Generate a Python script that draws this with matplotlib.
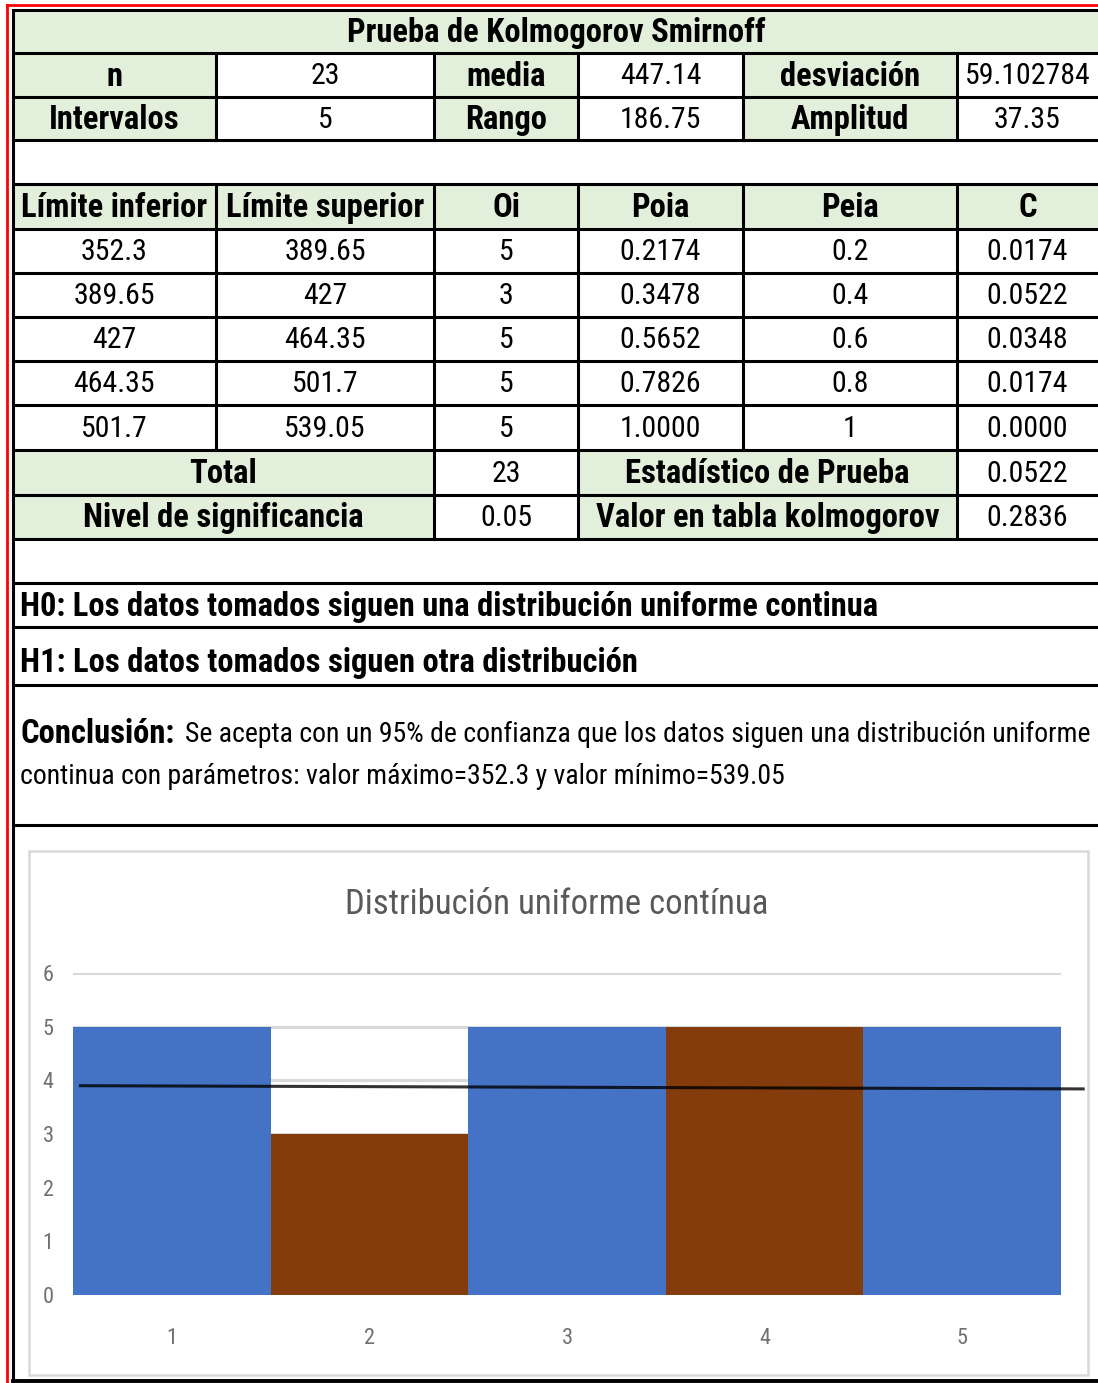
import matplotlib
matplotlib.use("Agg")
import matplotlib.pyplot as plt
from matplotlib.patches import Rectangle
from matplotlib import font_manager as fm

# ---------------- data ----------------
title = "Prueba de Kolmogorov Smirnoff"
summary_row1 = ["n", "23", "media", "447.14", "desviación", "59.102784"]
summary_row2 = ["Intervalos", "5", "Rango", "186.75", "Amplitud", "37.35"]
header = ["Límite inferior", "Límite superior", "Oi", "Poia", "Peia", "C"]
lim_inf = ["352.3", "389.65", "427", "464.35", "501.7"]
lim_sup = ["389.65", "427", "464.35", "501.7", "539.05"]
oi = [5, 3, 5, 5, 5]
poia = ["0.2174", "0.3478", "0.5652", "0.7826", "1.0000"]
peia = ["0.2", "0.4", "0.6", "0.8", "1"]
c_vals = ["0.0174", "0.0522", "0.0348", "0.0174", "0.0000"]
total_row = ["Total", "23", "Estadístico de Prueba", "0.0522"]
nivel_row = ["Nivel de significancia", "0.05", "Valor en tabla kolmogorov", "0.2836"]
h0 = "H0: Los datos tomados siguen una distribución uniforme continua"
h1 = "H1: Los datos tomados siguen otra distribución"
concl_bold = "Conclusión:"
concl_l1 = "Se acepta con un 95% de confianza que los datos siguen una distribución uniforme"
concl_l2 = "continua con parámetros: valor máximo=352.3 y valor mínimo=539.05"

chart_title = "Distribución uniforme contínua"
categories = ["1", "2", "3", "4", "5"]
bar_colors = ["#4472C4", "#843C0C", "#4472C4", "#843C0C", "#4472C4"]
line_x = [-0.47, 4.62]
line_y = [3.90, 3.84]

# ---------------- fonts ----------------
avail = {f.name for f in fm.fontManager.ttflist}
def pick(cands):
    for n in cands:
        if n in avail:
            return n
    return "DejaVu Sans"
NARROW = pick(["Liberation Sans Narrow", "DejaVu Sans Condensed", "Roboto Condensed", "Liberation Sans"])
FAM = [NARROW, "DejaVu Sans"]

W, H = 1098, 1383
fig = plt.figure(figsize=(W / 100, H / 100), dpi=100)
bg = fig.add_axes([0, 0, 1, 1])
bg.set_xlim(0, W)
bg.set_ylim(H, 0)
bg.axis("off")

GREEN = "#E2EFDA"
cols = [13, 216, 434, 578, 743, 957, 1098]
rows = [10, 53, 97, 140, 184, 229, 273, 317, 361, 405, 450, 495, 539, 583, 627, 685, 825]
LW = 2.2

def fill(x0, x1, y0, y1, color):
    bg.add_patch(Rectangle((x0, y0), x1 - x0, y1 - y0, facecolor=color, edgecolor="none", zorder=1))

def txt(x, y, s, size, bold=False, ha="center", color="black"):
    bg.text(x, y, s, fontsize=size, fontweight="bold" if bold else "normal",
            ha=ha, va="center", family=FAM, color=color, zorder=5)

def cx(i, j=None):
    j = i if j is None else j
    return (cols[i] + cols[j + 1]) / 2

def cy(r):
    return (rows[r] + rows[r + 1]) / 2 + 1.5

BS = 23.5   # bold label size
NS = 21.5   # number size

# title row
fill(cols[0], cols[-1], rows[0], rows[1], GREEN)
txt(556, cy(0), title, BS, bold=True)

# summary rows
for r, vals in ((1, summary_row1), (2, summary_row2)):
    for i, s in enumerate(vals):
        if i % 2 == 0:
            fill(cols[i], cols[i + 1], rows[r], rows[r + 1], GREEN)
            txt(cx(i), cy(r), s, BS, bold=True)
        else:
            txt(cx(i), cy(r), s, NS)

# header
fill(cols[0], cols[-1], rows[4], rows[5], GREEN)
for i, s in enumerate(header):
    txt(cx(i), cy(4), s, BS, bold=True)

# data rows
for k in range(5):
    r = 5 + k
    vals = [lim_inf[k], lim_sup[k], str(oi[k]), poia[k], peia[k], c_vals[k]]
    for i, s in enumerate(vals):
        txt(cx(i), cy(r), s, NS)

# total / nivel rows
for r, vals in ((10, total_row), (11, nivel_row)):
    fill(cols[0], cols[2], rows[r], rows[r + 1], GREEN)
    fill(cols[3], cols[5], rows[r], rows[r + 1], GREEN)
    txt(cx(0, 1), cy(r), vals[0], BS, bold=True)
    txt(cx(2), cy(r), vals[1], NS)
    txt(cx(3, 4), cy(r), vals[2], BS, bold=True)
    txt(cx(5), cy(r), vals[3], NS)

# hypotheses
txt(20, 607, h0, BS, bold=True, ha="left")
txt(20, 663, h1, BS, bold=True, ha="left")
txt(20, 734, concl_bold, BS, bold=True, ha="left")
txt(185, 734, concl_l1, 20, ha="left")
txt(20, 777, concl_l2, 20, ha="left")

# borders
for y in rows:
    bg.plot([cols[0], W], [y, y], color="black", lw=LW, zorder=6, solid_capstyle="butt")
bg.plot([cols[0], cols[0]], [rows[0], 1381], color="black", lw=LW, zorder=6)
bg.plot([cols[0], W], [1381, 1381], color="black", lw=LW + 0.6, zorder=6)
for (ya, yb) in ((rows[1], rows[3]), (rows[4], rows[10])):
    for x in cols[1:6]:
        bg.plot([x, x], [ya, yb], color="black", lw=LW, zorder=6)
for x in (cols[2], cols[3], cols[5]):
    bg.plot([x, x], [rows[10], rows[12]], color="black", lw=LW, zorder=6)

# red frame
bg.plot([7, W], [5, 5], color="#FF0000", lw=2.0, zorder=7)
bg.plot([7, 7], [5, H], color="#FF0000", lw=2.0, zorder=7)

# chart frame
bg.add_patch(Rectangle((29, 851), 1088 - 29, 1375 - 851, facecolor="white",
                       edgecolor="#D9D9D9", lw=1.8, zorder=2))
bg.text(557, 904, chart_title, fontsize=25, ha="center", va="center",
        family=FAM, color="#595959", zorder=5)

# ---------------- chart ----------------
x0, x1 = 73, 1061
y0, y6 = 1295, 973
ax = fig.add_axes([x0 / W, (H - y0) / H, (x1 - x0) / W, (y0 - y6) / H])
ax.set_facecolor("none")
xs = list(range(len(categories)))
for yv in range(0, 7):
    ax.axhline(yv, color="#D9D9D9", lw=2.2, zorder=0)
ax.bar(xs, oi, width=1.0, color=bar_colors, linewidth=0, zorder=2)
ax.plot(line_x, line_y, color="black", lw=2.2, alpha=0.8, clip_on=False, zorder=3,
        solid_capstyle="butt")
ax.set_xlim(-0.5, 4.5)
ax.set_ylim(0, 6)
ax.set_xticks(xs)
ax.set_xticklabels(categories)
ax.set_yticks(range(0, 7))
for s in ax.spines.values():
    s.set_visible(False)
ax.tick_params(axis="both", length=0, colors="#7F7F7F", labelsize=16)
ax.tick_params(axis="y", pad=14)
ax.tick_params(axis="x", pad=24)
for lab in ax.get_xticklabels() + ax.get_yticklabels():
    lab.set_family(FAM)
    lab.set_color("#707070")

fig.savefig("out.png", dpi=100)
